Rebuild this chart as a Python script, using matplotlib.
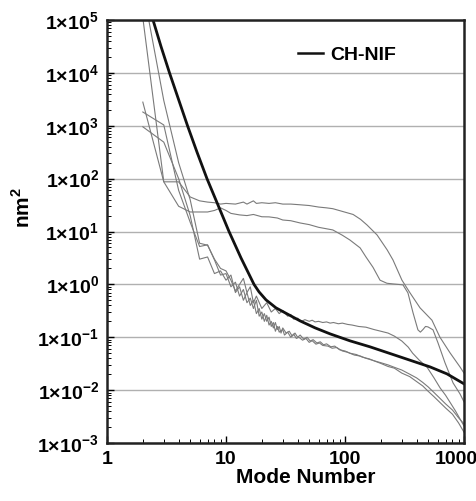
import math
import matplotlib
matplotlib.use("Agg")
import matplotlib.pyplot as plt
from matplotlib import font_manager
from matplotlib.ticker import FixedLocator, LogLocator, NullFormatter, FuncFormatter
from matplotlib.transforms import ScaledTranslation

# CH-NIF reference spectrum (thick black)
ch_nif_modes = [2.436, 2.843, 3.352, 3.99, 4.75, 5.71, 6.92, 8.57, 10.6, 13.37, 17.19, 18.94, 21.69, 26.3, 32.6,
                41.9, 56.0, 74.8, 110.2, 162.2, 273.5, 518, 719, 1000]
ch_nif_vals = [1e5, 31623, 1e4, 3162, 1e3, 316, 100, 31.6, 10, 3.16, 1.0, 0.722, 0.509, 0.36, 0.277,
               0.204, 0.1506, 0.116, 0.0855, 0.0659, 0.0445, 0.0275, 0.0203, 0.01315]

# measured capsule spectra (thin grey)
a_modes = [2, 3, 4, 5, 6, 7, 8, 9, 10, 12, 14, 15, 17, 18, 20, 23, 26, 30, 35, 42, 50, 60, 70, 79, 95,
           117, 135, 153, 186, 226, 253, 301, 352, 427, 538, 628, 762, 925, 1000]
a_vals = [2800, 87, 87, 45, 38, 36, 35, 33, 34, 33, 36, 33, 38, 34, 35, 34, 35, 33, 33, 32, 31, 29, 28, 27, 24,
          21, 17, 13.3, 8.6, 4.5, 2.9, 1.2, 0.69, 0.36, 0.21, 0.10, 0.051, 0.0275, 0.021]

b_modes = [2, 3, 4, 5, 6, 7, 8, 9, 10, 11, 13, 15, 17, 20, 23, 27, 30, 35, 42, 50, 60, 79, 95, 110, 134,
           150, 172, 197, 225, 253, 307, 338, 373, 410, 430, 452, 475, 498, 549, 605, 692, 809, 925, 1000]
b_vals = [1.1e5, 87, 30, 23.4, 23.4, 23.4, 25, 28, 25, 22, 20.6, 20, 21, 19, 18.9, 18, 16.5, 16, 14.5, 13.5, 12, 10.7, 8.5, 6.9, 4.9,
          3.3, 2.1, 1.2, 1.05, 1.02, 0.98, 0.69, 0.29, 0.138, 0.125, 0.14, 0.16, 0.157, 0.138, 0.078, 0.033, 0.0137, 0.0085, 0.006]

c_modes = [2, 3, 4, 5, 6, 7, 8, 9, 10, 11, 12, 13, 14, 15, 16, 17, 18, 20, 22, 24, 26, 28, 30, 33, 35, 37, 40, 43, 46,
           50, 53, 56, 60, 65, 70, 75, 80, 88, 95, 105, 115, 130, 150, 175, 200, 230, 260, 300, 340, 370, 420,
           490, 560, 630, 700, 770, 850, 930, 1000]
c_vals = [4e5, 3000, 200, 40, 6, 5.5, 3, 2, 1.8, 1.2, 0.75, 1.0, 1.3, 0.7, 0.9, 0.45, 0.6, 0.35, 0.45, 0.3, 0.35, 0.28, 0.32, 0.25, 0.27, 0.22, 0.23, 0.2, 0.215,
          0.2, 0.21, 0.195, 0.2, 0.19, 0.195, 0.185, 0.19, 0.18, 0.185, 0.175, 0.17, 0.16, 0.155, 0.14, 0.13, 0.12, 0.105, 0.085, 0.065, 0.05, 0.037,
          0.027, 0.017, 0.011, 0.008, 0.0057, 0.004, 0.0028, 0.0021]

d_modes = [2, 3, 4, 5, 6, 7, 8, 9, 10, 11, 12, 13, 14, 15, 16, 17, 18, 19, 20, 21, 22, 23, 24, 25, 26, 27, 28, 29, 30,
           32, 34, 36, 38, 40, 42, 45, 48, 51, 54, 58, 62, 66, 70, 76, 82, 90, 100, 110, 125, 140, 160, 180, 200,
           230, 260, 300, 350, 400, 450, 500, 560, 620, 700, 800, 900, 1000]
d_vals = [1820, 1035, 60, 15, 5.2, 5.6, 2.9, 1.5, 1.6, 0.9, 1.1, 0.6, 0.8, 0.45, 0.55, 0.35, 0.5, 0.25, 0.3, 0.2, 0.26, 0.17, 0.2, 0.15, 0.19, 0.14, 0.16, 0.12, 0.15,
          0.12, 0.13, 0.105, 0.12, 0.1, 0.11, 0.092, 0.1, 0.085, 0.09, 0.078, 0.082, 0.072, 0.075, 0.066, 0.068, 0.058, 0.055, 0.05, 0.047, 0.042, 0.039, 0.035, 0.032,
          0.028, 0.026, 0.021, 0.018, 0.0145, 0.012, 0.0095, 0.0075, 0.006, 0.0046, 0.0035, 0.0024, 0.0016]

e_modes = [2, 3, 4, 5, 6, 7, 8, 9, 10, 11, 12, 13, 14, 15, 16, 17, 18, 19, 20, 21, 22, 23, 24, 25, 26, 27, 28, 30, 31,
           33, 35, 37, 39, 41, 44, 47, 50, 53, 57, 61, 65, 72, 78, 85, 95, 105, 120, 135, 150, 175, 200, 230, 260,
           300, 350, 400, 450, 500, 560, 620, 700, 800, 900, 1000]
e_vals = [955, 490, 100, 20, 3, 3.3, 1.6, 1.8, 1.2, 1.5, 0.7, 0.9, 0.5, 0.7, 0.4, 0.5, 0.28, 0.35, 0.22, 0.28, 0.2, 0.24, 0.16, 0.19, 0.13, 0.16, 0.125, 0.14, 0.11,
          0.125, 0.1, 0.115, 0.095, 0.1, 0.088, 0.095, 0.08, 0.086, 0.074, 0.078, 0.07, 0.068, 0.062, 0.064, 0.055, 0.052, 0.046, 0.044, 0.04, 0.036, 0.033, 0.03, 0.027,
          0.024, 0.02, 0.017, 0.014, 0.0115, 0.009, 0.0072, 0.0055, 0.0042, 0.003, 0.0023]

y_exponents = [5, 4, 3, 2, 1, 0, -1, -2, -3]
x_ticks = [1, 10, 100, 1000]

names = {f.name for f in font_manager.fontManager.ttflist}
narrow = 'Liberation Sans Narrow' in names
label_family = 'Liberation Sans Narrow' if narrow else 'Liberation Sans'
label_size = 18 if narrow else 15

plt.rcParams['font.family'] = ['Liberation Sans', 'DejaVu Sans']
plt.rcParams['font.weight'] = 'bold'
plt.rcParams['mathtext.fontset'] = 'custom'
plt.rcParams['mathtext.rm'] = 'Liberation Sans:bold'
plt.rcParams['mathtext.bf'] = 'Liberation Sans:bold'

fig = plt.figure(figsize=(4.77, 5.01), dpi=100)
ax = fig.add_axes([107 / 477, 58 / 501, 357 / 477, 423 / 501])

for m, v in [(a_modes, a_vals), (b_modes, b_vals), (c_modes, c_vals), (d_modes, d_vals), (e_modes, e_vals)]:
    ax.plot(m, v, color='#7a7a7a', lw=0.8)
ax.plot(ch_nif_modes, ch_nif_vals, color='#111111', lw=2.0, label='CH-NIF', solid_joinstyle='round')

ax.set_xscale('log')
ax.set_yscale('log')
ax.set_xlim(1, 1000)
ax.set_ylim(1e-3, 1e5)

ax.yaxis.set_major_locator(FixedLocator([10.0 ** e for e in y_exponents]))
ax.yaxis.set_major_formatter(FuncFormatter(lambda v, p: r'$\mathbf{1{\times}10^{%d}}$' % round(math.log10(v))))
ax.yaxis.set_minor_locator(LogLocator(base=10, subs=range(2, 10), numticks=20))
ax.yaxis.set_minor_formatter(NullFormatter())
ax.xaxis.set_major_locator(FixedLocator(x_ticks))
ax.xaxis.set_major_formatter(FuncFormatter(lambda v, p: '%d' % v))
ax.xaxis.set_minor_locator(LogLocator(base=10, subs=range(2, 10), numticks=20))
ax.xaxis.set_minor_formatter(NullFormatter())

ax.tick_params(which='both', direction='in', top=False, right=False)
ax.tick_params(which='major', length=5, width=1, labelsize=14, pad=6)
ax.tick_params(which='minor', length=3, width=0.7)
ax.grid(axis='y', which='major', color='#b0b0b0', lw=1.0)
for s in ax.spines.values():
    s.set_linewidth(1.8)
    s.set_color('#222222')

fig.canvas.draw()
last = ax.get_xticklabels()[-1]
last.set_transform(last.get_transform() + ScaledTranslation(-8 / 100, 0, fig.dpi_scale_trans))

ax.set_xlabel('Mode Number', fontsize=label_size, fontweight='bold', family=label_family)
ax.xaxis.set_label_coords(0.557, -0.058)
ax.set_ylabel(r'nm$^\mathbf{2}$', fontsize=label_size, fontweight='bold', family=label_family)
ax.yaxis.set_label_coords(-0.205, 0.556)

leg = ax.legend(loc='upper right', bbox_to_anchor=(0.86, 0.98), frameon=False, fontsize=14,
                handlelength=1.3, handletextpad=0.4)
for t in leg.get_texts():
    t.set_fontweight('bold')
for h in leg.get_lines():
    h.set_linewidth(1.8)

fig.savefig('out.png', dpi=100)
